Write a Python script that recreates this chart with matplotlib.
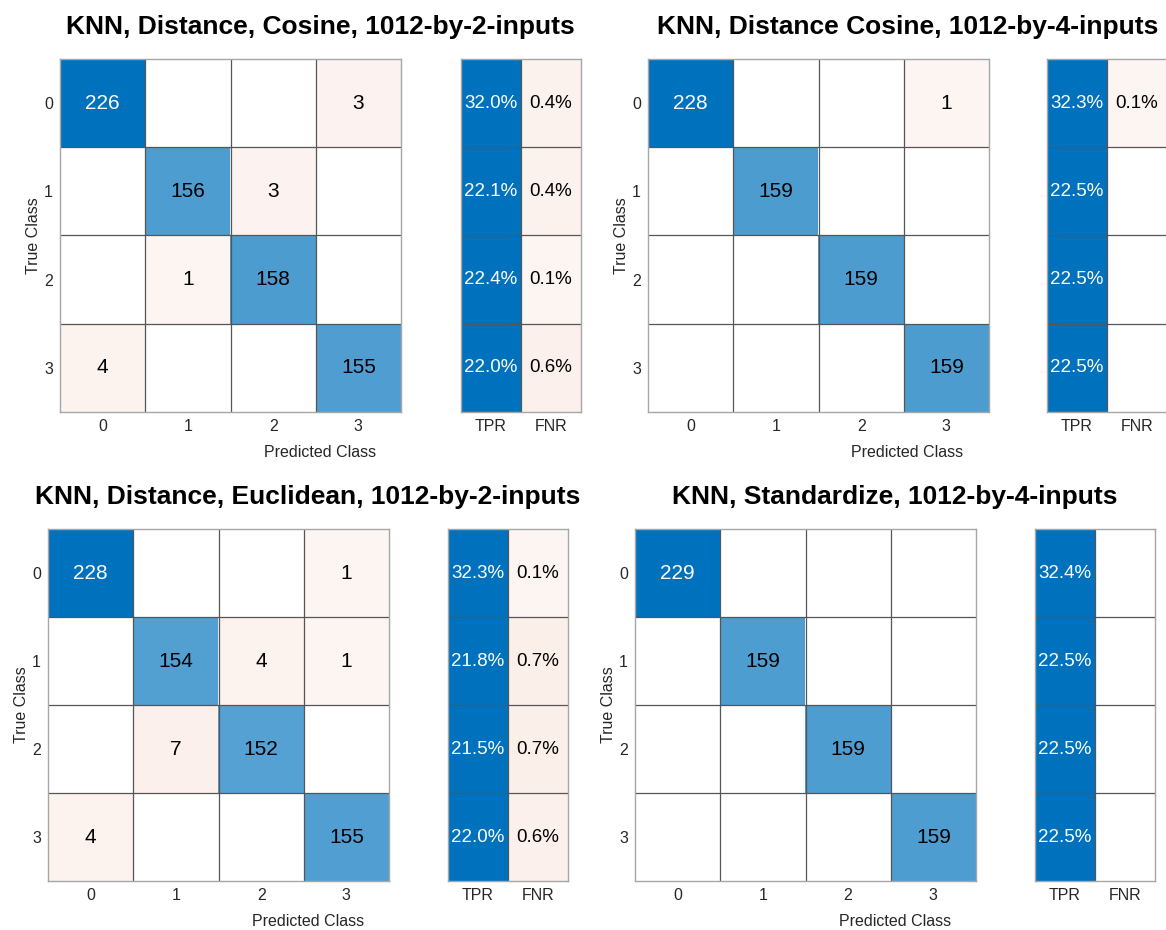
# knn_confusion.py ; four KNN confusion charts with TPR/FNR summary columns
import numpy as np
import matplotlib
matplotlib.use('Agg')
import matplotlib.pyplot as plt

plt.rcParams['font.family'] = ['Liberation Sans', 'DejaVu Sans']

classes = ['0', '1', '2', '3']
summary_labels = ['TPR', 'FNR']

titles = [
    'KNN, Distance, Cosine, 1012-by-2-inputs',
    'KNN, Distance Cosine, 1012-by-4-inputs',
    'KNN, Distance, Euclidean, 1012-by-2-inputs',
    'KNN, Standardize, 1012-by-4-inputs',
]

cm_cosine_2 = [[226, 0, 0, 3], [0, 156, 3, 0], [0, 1, 158, 0], [4, 0, 0, 155]]
cm_cosine_4 = [[228, 0, 0, 1], [0, 159, 0, 0], [0, 0, 159, 0], [0, 0, 0, 159]]
cm_euclid_2 = [[228, 0, 0, 1], [0, 154, 4, 1], [0, 7, 152, 0], [4, 0, 0, 155]]
cm_stand_4 = [[229, 0, 0, 0], [0, 159, 0, 0], [0, 0, 159, 0], [0, 0, 0, 159]]

tpr_cosine_2 = [32.0, 22.1, 22.4, 22.0]
fnr_cosine_2 = [0.4, 0.4, 0.1, 0.6]
tpr_cosine_4 = [32.3, 22.5, 22.5, 22.5]
fnr_cosine_4 = [0.1, 0, 0, 0]
tpr_euclid_2 = [32.3, 21.8, 21.5, 22.0]
fnr_euclid_2 = [0.1, 0.7, 0.7, 0.6]
tpr_stand_4 = [32.4, 22.5, 22.5, 22.5]
fnr_stand_4 = [0, 0, 0, 0]

matrices = [cm_cosine_2, cm_cosine_4, cm_euclid_2, cm_stand_4]
tprs = [tpr_cosine_2, tpr_cosine_4, tpr_euclid_2, tpr_stand_4]
fnrs = [fnr_cosine_2, fnr_cosine_4, fnr_euclid_2, fnr_stand_4]

W, H = 1166, 930
# pixel layout: matrix left, top, right, bottom, summary left
layout = [
    (60, 59, 401, 412, 461),
    (648, 59, 989, 412, 1047),
    (48, 529, 389, 881, 448),
    (635, 529, 976, 881, 1035),
]
SUM_W = 120

BLUE = np.array([0, 114, 189]) / 255
RED = np.array([217, 83, 25]) / 255
WHITE = np.ones(3)
TXT = '#262626'
INNER = '#555555'
OUTER = '#a6a6a6'


def blend(c, f):
    return WHITE + f * (c - WHITE)


def frame(ax, nrow, ncol):
    ax.set_xticks(np.arange(ncol))
    ax.set_yticks(np.arange(nrow))
    ax.set_xticks(np.arange(ncol - 1) + 0.5, minor=True)
    ax.set_yticks(np.arange(nrow - 1) + 0.5, minor=True)
    ax.grid(which='minor', color=INNER, linewidth=0.9)
    ax.tick_params(which='both', length=0, labelsize=11.5, labelcolor=TXT)
    for s in ax.spines.values():
        s.set_color(OUTER)
        s.set_linewidth(1.0)


fig = plt.figure(figsize=(W / 100, H / 100), dpi=100)

for k in range(4):
    ml, mt, mr, mb, sl = layout[k]
    cm = np.array(matrices[k])
    n = len(classes)
    vmax = cm.max()

    rgb = np.ones((n, n, 3))
    for i in range(n):
        for j in range(n):
            v = cm[i, j]
            if v == 0:
                continue
            if i == j:
                rgb[i, j] = blend(BLUE, v / vmax)
            else:
                rgb[i, j] = blend(RED, 0.05 + 0.005 * v)

    ax = fig.add_axes([ml / W, (H - mb) / H, (mr - ml) / W, (mb - mt) / H])
    ax.imshow(rgb, aspect='auto', interpolation='nearest')
    frame(ax, n, n)
    ax.set_xticklabels(classes)
    ax.set_yticklabels(classes)
    ax.tick_params(axis='x', pad=5)
    ax.tick_params(axis='y', pad=5)
    ax.set_ylabel('True Class', fontsize=11.5, color=TXT)
    ax.yaxis.set_label_coords(-0.055, 0.5)
    for i in range(n):
        for j in range(n):
            v = cm[i, j]
            if v == 0:
                continue
            c = 'white' if (i == j and v / vmax > 0.85) else 'black'
            ax.text(j, i, str(v), ha='center', va='center', fontsize=15, color=c)

    # summary column
    tpr = tprs[k]
    fnr = fnrs[k]
    srgb = np.ones((n, 2, 3))
    for i in range(n):
        srgb[i, 0] = BLUE
        if fnr[i] > 0:
            srgb[i, 1] = blend(RED, 0.05 + 0.06 * fnr[i])
    sx = fig.add_axes([sl / W, (H - mb) / H, SUM_W / W, (mb - mt) / H])
    sx.imshow(srgb, aspect='auto', interpolation='nearest')
    frame(sx, n, 2)
    sx.set_xticklabels(summary_labels)
    sx.set_yticklabels([])
    sx.tick_params(axis='x', pad=5)
    for i in range(n):
        sx.text(0, i, '{:.1f}%'.format(tpr[i]), ha='center', va='center',
                fontsize=13.5, color='white')
        if fnr[i] > 0:
            sx.text(1, i, '{:.1f}%'.format(fnr[i]), ha='center', va='center',
                    fontsize=13.5, color='black')

    cx = (ml + sl + SUM_W) / 2
    fig.text(cx / W, 1 - (mb + 40) / H, 'Predicted Class', ha='center', va='center',
             fontsize=11.5, color=TXT)
    fig.text(cx / W, 1 - (mt - 32) / H, titles[k], ha='center', va='center',
             fontsize=19, fontweight='bold', color='black')

fig.savefig('out.png', dpi=100, facecolor='white')
